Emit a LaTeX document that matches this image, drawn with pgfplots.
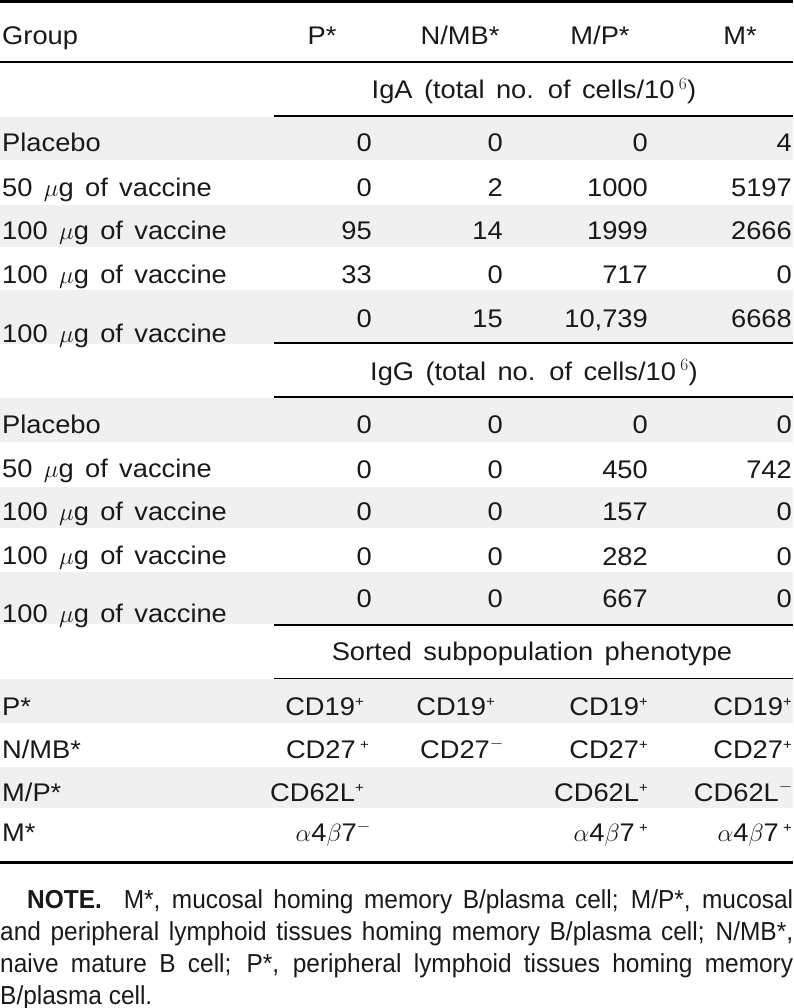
\documentclass[border=0pt]{standalone}
\usepackage{fontspec}
\setmainfont[FakeStretch=1.07, WordSpace=1.5]{Liberation Sans}
\newfontfamily\notefont[FakeStretch=0.94]{Liberation Sans}
\usepackage{pgfplots}
\pgfplotsset{compat=1.18}
\usepackage{pgfplotstable}

\newcommand{\tabfont}{\fontsize{25.5pt}{30pt}\selectfont}
\newcommand{\supp}{\raisebox{8.5pt}{\fontsize{14pt}{14pt}\selectfont +}}
\newcommand{\supm}{$^{-}$}

% left column labels (x = left edge, y = baseline from top)
\pgfplotstableread{
x y lab
2 45 Group
2 152 Placebo
2 197 {50 $\mu$g of vaccine}
2 240 {100 $\mu$g of vaccine}
2 283 {100 $\mu$g of vaccine}
2 342 {100 $\mu$g of vaccine}
2 433 Placebo
2 477 {50 $\mu$g of vaccine}
2 520 {100 $\mu$g of vaccine}
2 564 {100 $\mu$g of vaccine}
2 622 {100 $\mu$g of vaccine}
2 715 P*
2 758 N/MB*
2 801 M/P*
2 841 M*
}\lefttab

% IgA counts (total no. of cells/10^6)
\pgfplotstableread{
x y lab
372 152 0
503 152 0
648 152 0
792 152 4
372 197 0
503 197 2
648 197 1000
792 197 5197
372 240 95
503 240 14
648 240 1999
792 240 2666
372 283 33
503 283 0
648 283 717
792 283 0
372 327 0
503 327 15
648 327 10,739
792 327 6668
}\igatab

% IgG counts (total no. of cells/10^6)
\pgfplotstableread{
x y lab
372 433 0
503 433 0
648 433 0
792 433 0
372 478 0
503 478 0
648 478 450
792 478 742
372 520 0
503 520 0
648 520 157
792 520 0
372 565 0
503 565 0
648 565 282
792 565 0
372 607 0
503 607 0
648 607 667
792 607 0
}\iggtab

% sorted subpopulation phenotype
\pgfplotstableread{
x y lab
364 715 {CD19\supp}
495 715 {CD19\supp}
648 715 {CD19\supp}
792 715 {CD19\supp}
369 758 {CD27\,\supp}
504 758 {CD27\supm}
648 758 {CD27\supp}
792 758 {CD27\supp}
364 801 {CD62L\supp}
648 801 {CD62L\supp}
793 801 {CD62L\supm}
371 841 {$\alpha$4$\beta$7\supm}
648 841 {$\alpha$4$\beta$7\,\supp}
792 841 {$\alpha$4$\beta$7\,\supp}
}\phenotab

% centred headers
\pgfplotstableread{
x y lab
322 45 P*
460 45 N/MB*
600 45 M/P*
740 45 M*
534 99 {IgA (total no. of cells/10\,$^{6}$)}
534 380 {IgG (total no. of cells/10\,$^{6}$)}
532 660 {Sorted subpopulation phenotype}
}\headtab

\begin{document}
\begin{tikzpicture}
\begin{axis}[
  scale only axis, width=793pt, height=1008pt,
  xmin=0, xmax=793, ymin=0, ymax=1008, y dir=reverse,
  hide axis, clip=false,
  every node near coord/.append style={font=\tabfont, inner sep=0pt, text=black!90},
]
% shaded rows
\fill[black!6] (axis cs:0,117) rectangle (axis cs:793,160);
\fill[black!6] (axis cs:0,205) rectangle (axis cs:793,247);
\fill[black!6] (axis cs:0,290) rectangle (axis cs:793,344);
\fill[black!6] (axis cs:0,398) rectangle (axis cs:793,442);
\fill[black!6] (axis cs:0,487) rectangle (axis cs:793,528);
\fill[black!6] (axis cs:0,572) rectangle (axis cs:793,624);
\fill[black!6] (axis cs:0,679) rectangle (axis cs:793,723);
\fill[black!6] (axis cs:0,767) rectangle (axis cs:793,808);
% rules
\draw[line width=2.5pt] (axis cs:0,1.3) -- (axis cs:793,1.3);
\draw[line width=2pt] (axis cs:0,62) -- (axis cs:793,62);
\draw[line width=1.5pt] (axis cs:274,116) -- (axis cs:793,116);
\draw[line width=2pt] (axis cs:274,343) -- (axis cs:793,343);
\draw[line width=1.5pt] (axis cs:274,397) -- (axis cs:793,397);
\draw[line width=2pt] (axis cs:274,625) -- (axis cs:793,625);
\draw[line width=1pt] (axis cs:274,678) -- (axis cs:793,678);
\draw[line width=3pt] (axis cs:0,862) -- (axis cs:793,862);

\addplot[draw=none, mark=none, nodes near coords, point meta=explicit symbolic,
  every node near coord/.append style={anchor=base west}]
  table[x=x, y=y, meta=lab] {\lefttab};
\addplot[draw=none, mark=none, nodes near coords, point meta=explicit symbolic,
  every node near coord/.append style={anchor=base east}]
  table[x=x, y=y, meta=lab] {\igatab};
\addplot[draw=none, mark=none, nodes near coords, point meta=explicit symbolic,
  every node near coord/.append style={anchor=base east}]
  table[x=x, y=y, meta=lab] {\iggtab};
\addplot[draw=none, mark=none, nodes near coords, point meta=explicit symbolic,
  every node near coord/.append style={anchor=base east}]
  table[x=x, y=y, meta=lab] {\phenotab};
\addplot[draw=none, mark=none, nodes near coords, point meta=explicit symbolic,
  every node near coord/.append style={anchor=base}]
  table[x=x, y=y, meta=lab] {\headtab};

\node[anchor=north west, inner sep=0pt, text width=793pt, align=justify,
  font=\notefont\fontsize{26pt}{32pt}\selectfont, text=black!90] at (axis cs:0,889)
  {\hspace*{27pt}\textbf{NOTE.}\hspace{22pt}M*, mucosal homing memory B/plasma cell; M/P*, mucosal\linebreak
   and peripheral lymphoid tissues homing memory B/plasma cell; N/MB*,\linebreak
   naive mature B cell; P*, peripheral lymphoid tissues homing memory\linebreak
   B/plasma cell.};
\end{axis}
\pgfresetboundingbox
\path (0,0) rectangle (793pt,1008pt);
\end{tikzpicture}
\end{document}
